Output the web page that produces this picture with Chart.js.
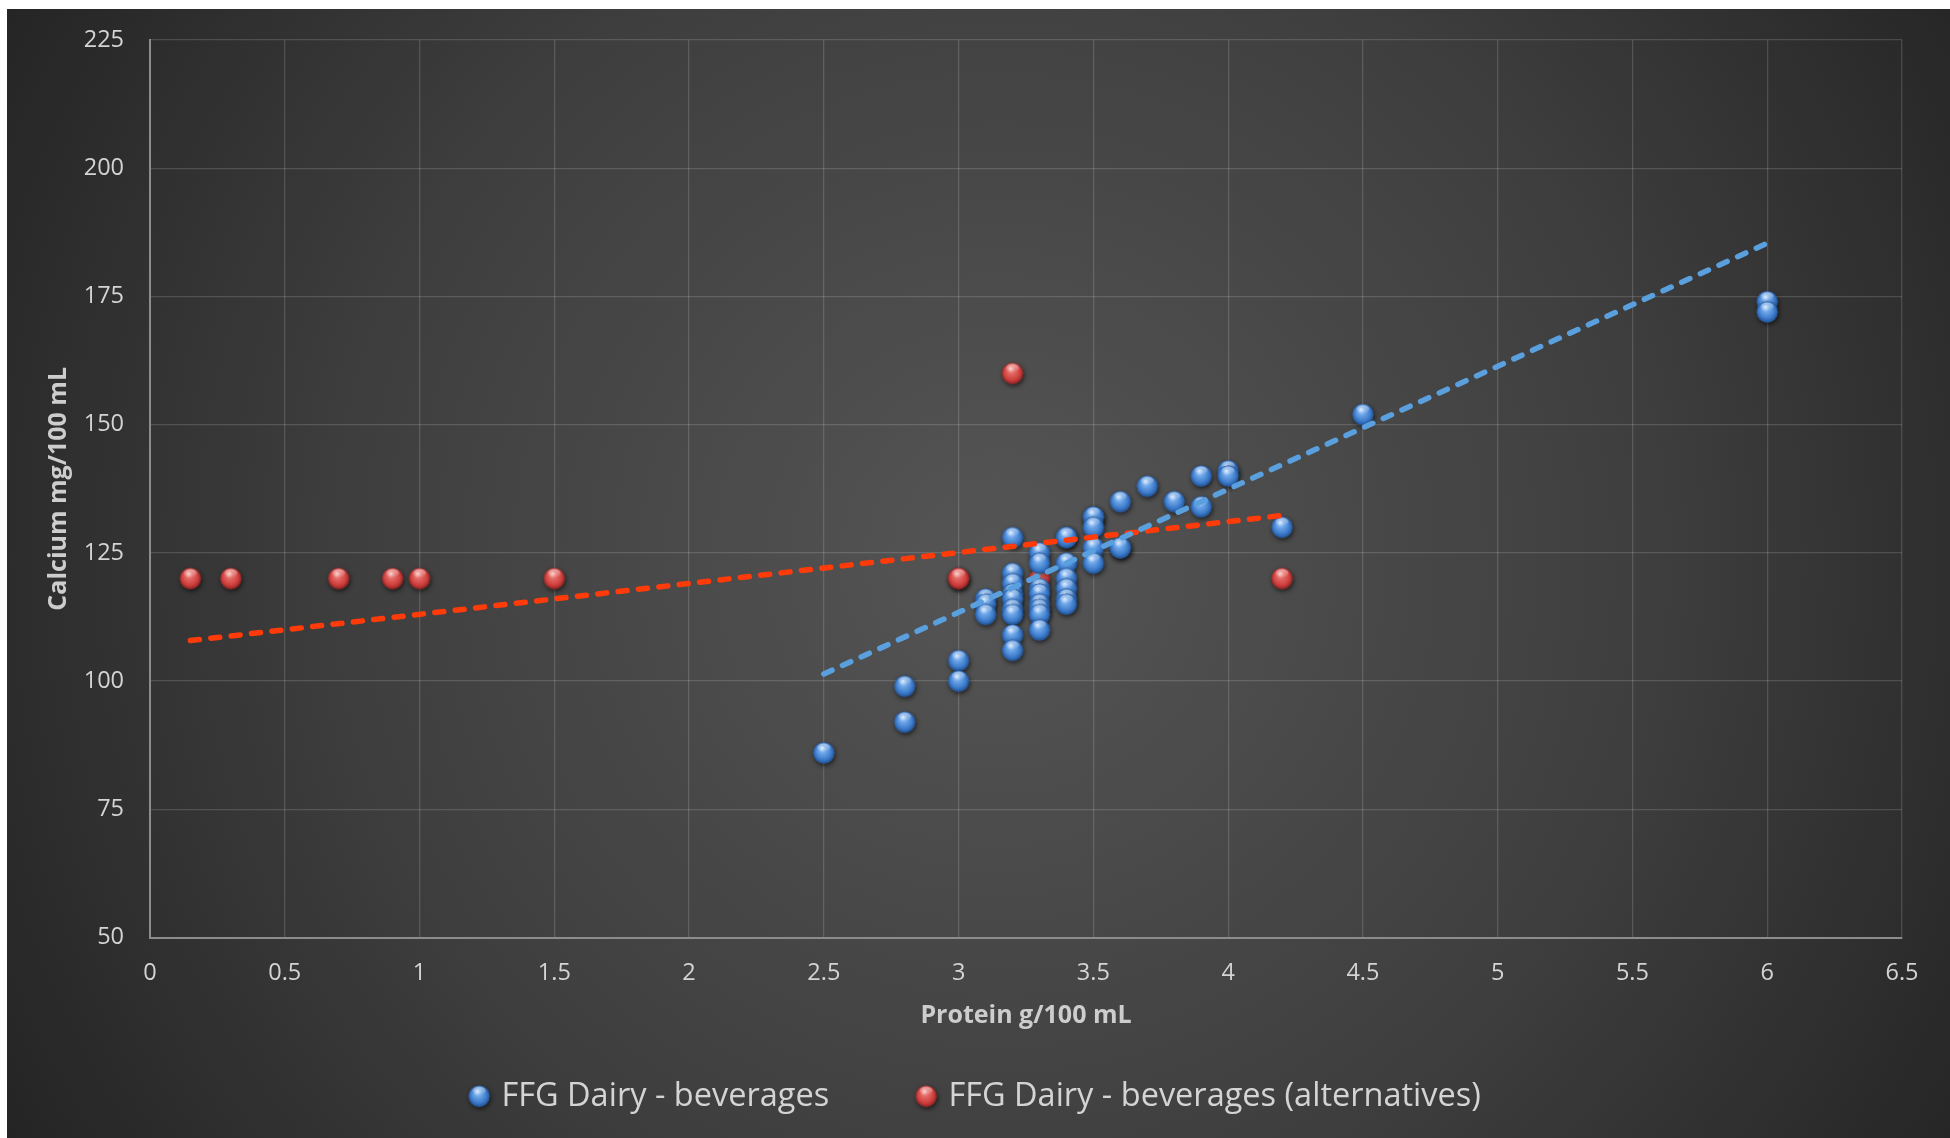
<!DOCTYPE html>
<html>
<head>
<meta charset="utf-8">
<script src="https://cdn.jsdelivr.net/npm/chart.js@4.4.1/dist/chart.umd.min.js"></script>
<style>
  html, body { margin: 0; padding: 0; background: #fff; }
  canvas { display: block; }
</style>
</head>
<body>
<canvas id="chart" width="1950" height="1138"></canvas>
<script>
// protein (g/100 mL) and calcium (mg/100 mL)
var dairyX = [2.5, 2.8, 2.8, 3.0, 3.0,
  3.1, 3.1, 3.1,
  3.2, 3.2, 3.2, 3.2, 3.2, 3.2, 3.2, 3.2, 3.2,
  3.3, 3.3, 3.3, 3.3, 3.3, 3.3, 3.3, 3.3,
  3.4, 3.4, 3.4, 3.4, 3.4, 3.4, 3.4,
  3.5, 3.5, 3.5, 3.5, 3.5,
  3.6, 3.6, 3.6, 3.7, 3.8, 3.9, 3.9, 4.0, 4.0, 4.2, 4.5, 6.0, 6.0];
var dairyY = [86, 99, 92, 104, 100,
  116, 115, 113,
  128, 121, 119, 117, 116, 114, 113, 109, 106,
  125, 123, 118, 117, 115, 114, 113, 110,
  128, 128, 123, 120, 118, 116, 115,
  132, 132, 130, 126, 123,
  135, 126, 126, 138, 135, 140, 134, 141, 140, 130, 152, 174, 172];

var altX = [0.15, 0.3, 0.7, 0.9, 1.0, 1.5, 3.0, 3.0, 3.2, 3.3, 4.2];
var altY = [120, 120, 120, 120, 120, 120, 120, 120, 160, 120, 120];

// trendline end points (as drawn in the picture)
var dairyTrendX = [2.5, 6.0];
var dairyTrendY = [101.4, 185.4];
var altTrendX = [0.15, 4.2];
var altTrendY = [107.9, 132.3];

var xTicks = [0, 0.5, 1, 1.5, 2, 2.5, 3, 3.5, 4, 4.5, 5, 5.5, 6, 6.5];
var yTicks = [50, 75, 100, 125, 150, 175, 200, 225];

var seriesNames = ['FFG Dairy - beverages', 'FFG Dairy - beverages (alternatives)'];

function toPoints(xs, ys) {
  var pts = [];
  for (var i = 0; i < xs.length; i++) pts.push({x: xs[i], y: ys[i]});
  return pts;
}

// little shaded ball used as marker
function ball(light, mid, base, edge) {
  var c = document.createElement('canvas');
  c.width = 34; c.height = 34;
  var g = c.getContext('2d');
  var r = 10.5;
  g.save();
  g.shadowColor = 'rgba(0,0,0,0.65)';
  g.shadowBlur = 5;
  g.shadowOffsetX = 1;
  g.shadowOffsetY = 2;
  g.beginPath();
  g.arc(17, 17, r, 0, Math.PI * 2);
  g.fillStyle = base;
  g.fill();
  g.restore();
  var grad = g.createRadialGradient(15, 12, 0.5, 17, 17, r + 0.5);
  grad.addColorStop(0, light);
  grad.addColorStop(0.3, mid);
  grad.addColorStop(0.75, base);
  grad.addColorStop(1, edge);
  g.beginPath();
  g.arc(17, 17, r, 0, Math.PI * 2);
  g.fillStyle = grad;
  g.fill();
  // soft shine at the top
  var shine = g.createLinearGradient(0, 7, 0, 16);
  shine.addColorStop(0, 'rgba(255,255,255,0.55)');
  shine.addColorStop(1, 'rgba(255,255,255,0)');
  g.beginPath();
  g.ellipse(17, 11.5, 6.5, 4, 0, 0, Math.PI * 2);
  g.fillStyle = shine;
  g.fill();
  return c;
}

var blueBall = ball('#cfe3fa', '#6fa8ea', '#3a78c8', '#1e4c8c');
var redBall = ball('#f8c0b8', '#e46a66', '#cc3c3a', '#7e1f1f');

var background = {
  id: 'background',
  beforeDraw: function(chart) {
    var ctx = chart.ctx;
    ctx.save();
    ctx.fillStyle = '#ffffff';
    ctx.fillRect(0, 0, chart.width, chart.height);
    var grad = ctx.createRadialGradient(1000, 560, 0, 1000, 560, 1150);
    grad.addColorStop(0, '#555555');
    grad.addColorStop(0.55, '#3f3f3f');
    grad.addColorStop(1, '#242424');
    ctx.fillStyle = grad;
    ctx.fillRect(7, 9, chart.width - 7, chart.height - 9);
    ctx.restore();
  }
};

// the legend sits a bit right of the canvas centre in the original
var legendShift = {
  id: 'legendShift',
  afterLayout: function(chart) {
    chart.legend.left += 26;
    chart.legend.right += 26;
  }
};

var ctx = document.getElementById('chart');

new Chart(ctx, {
  type: 'scatter',
  data: {
    datasets: [
      {
        label: seriesNames[0],
        data: toPoints(dairyX, dairyY),
        pointStyle: blueBall,
        pointRadius: 10,
        order: 2
      },
      {
        label: seriesNames[1],
        data: toPoints(altX, altY),
        pointStyle: redBall,
        pointRadius: 10,
        order: 3
      },
      {
        label: 'alt trend',
        data: toPoints(altTrendX, altTrendY),
        showLine: true,
        pointRadius: 0,
        borderColor: '#ff3b0a',
        borderWidth: 5.5,
        borderDash: [9, 11.5],
        borderCapStyle: 'round',
        order: 1
      },
      {
        label: 'dairy trend',
        data: toPoints(dairyTrendX, dairyTrendY),
        showLine: true,
        pointRadius: 0,
        borderColor: '#5aa0de',
        borderWidth: 5.5,
        borderDash: [9, 11.5],
        borderCapStyle: 'round',
        order: 0
      }
    ]
  },
  options: {
    responsive: false,
    animation: false,
    layout: {
      padding: {left: 0, right: 48, top: 39, bottom: 15.5}
    },
    plugins: {
      tooltip: {enabled: false},
      legend: {
        position: 'bottom',
        labels: {
          filter: function(item) { return item.datasetIndex < 2; },
          usePointStyle: true,
          boxWidth: 12,
          padding: 91,
          color: '#d4d4d4',
          font: {family: 'Open Sans', size: 32.5}
        }
      }
    },
    scales: {
      x: {
        type: 'linear',
        min: 0,
        max: 6.5,
        afterBuildTicks: function(s) { s.ticks = xTicks.map(function(v) { return {value: v}; }); },
        afterFit: function(s) { s.height = 51.5; },
        grid: {color: 'rgba(255,255,255,0.15)', lineWidth: 1.3, drawTicks: false},
        border: {display: true, color: '#8c8c8c', width: 2},
        ticks: {
          padding: 22,
          color: '#d4d4d4',
          font: {family: 'Open Sans', size: 23.5},
          callback: function(v) { return String(v); }
        },
        title: {
          display: true,
          text: 'Protein g/100 mL',
          color: '#cdcdcd',
          padding: {top: 0, bottom: -42},
          font: {family: 'Open Sans', size: 25, weight: 'bold'}
        }
      },
      y: {
        type: 'linear',
        min: 50,
        max: 225,
        afterBuildTicks: function(s) { s.ticks = yTicks.map(function(v) { return {value: v}; }); },
        afterFit: function(s) { s.width = 150; },
        grid: {color: 'rgba(255,255,255,0.15)', lineWidth: 1.3, drawTicks: false},
        border: {display: true, color: '#8c8c8c', width: 2},
        ticks: {
          padding: 26,
          color: '#d4d4d4',
          font: {family: 'Open Sans', size: 23.5},
          callback: function(v) { return String(v); }
        },
        title: {
          display: true,
          text: 'Calcium mg/100 mL',
          color: '#cdcdcd',
          padding: {top: 44, bottom: 0},
          font: {family: 'Open Sans', size: 25, weight: 'bold'}
        }
      }
    }
  },
  plugins: [background, legendShift]
});
</script>
</body>
</html>
